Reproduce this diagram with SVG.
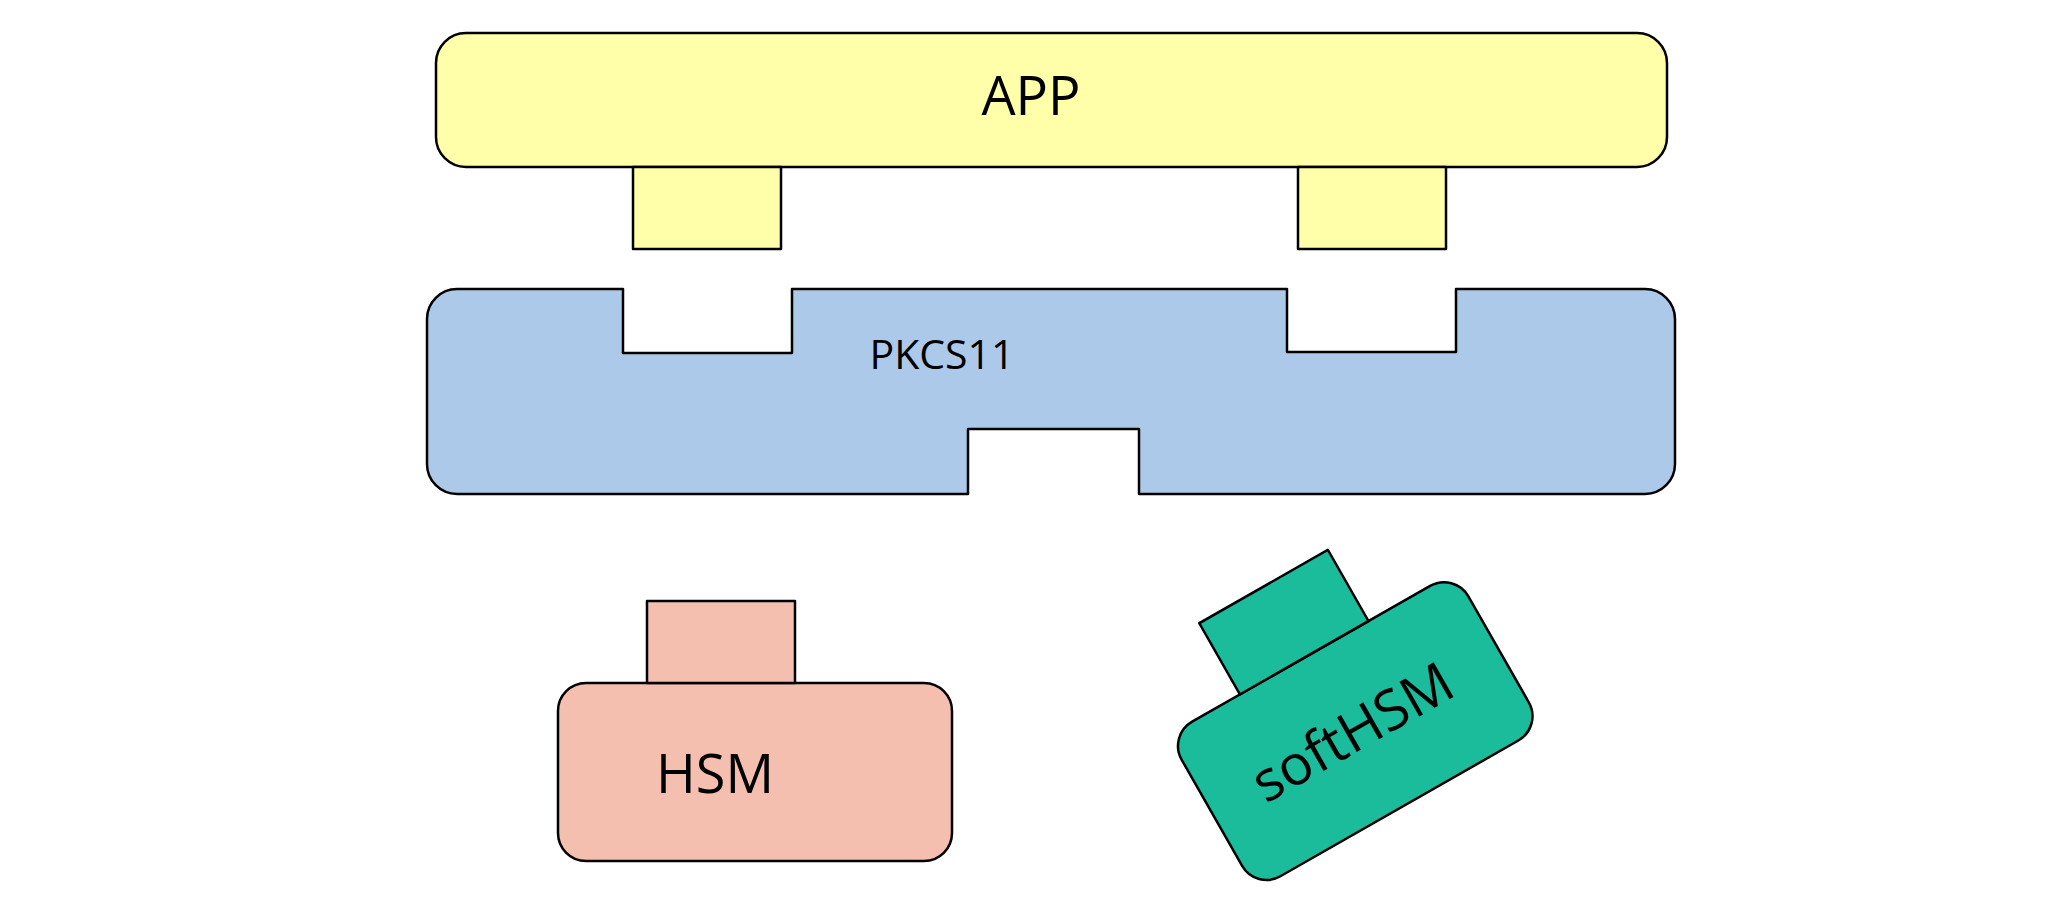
<svg xmlns="http://www.w3.org/2000/svg" width="2068" height="908" viewBox="0 0 2068 908">
<style>
.s{stroke:#000;stroke-width:2.5;stroke-linejoin:round}
.app{fill:#ffffaa}
.pk{fill:#adc9ea}
.hsm{fill:#f4bfae}
.soft{fill:#1abc9c}
.t{font-family:"Open Sans","Noto Sans","DejaVu Sans",sans-serif;font-size:54px;fill:#000;text-anchor:middle}
.t2{font-size:41px}
.t3{font-size:56px}
</style>
<rect width="2068" height="908" fill="#fff"/>
<g id="app">
<rect class="s app" x="436" y="33" width="1231" height="134" rx="30"/>
<text class="t" x="1031" y="115">APP</text>
</g>
<g id="app-port-left"><rect class="s app" x="633" y="167" width="148" height="82"/></g>
<g id="app-port-right"><rect class="s app" x="1298" y="167" width="148" height="82"/></g>
<g id="pkcs11">
<path class="s pk" d="M457,289 H623 V353 H792 V289 H1287 V352 H1456 V289 H1645 A30,30 0 0 1 1675,319 V464 A30,30 0 0 1 1645,494 H1139 V429 H968 V494 H457 A30,30 0 0 1 427,464 V319 A30,30 0 0 1 457,289 Z"/>
<text class="t t2" x="942" y="369">PKCS11</text>
</g>
<g id="hsm">
<rect class="s hsm" x="558" y="683" width="394" height="178" rx="28"/>
<rect class="s hsm" x="647" y="601" width="148" height="82"/>
<text class="t" x="715" y="793">HSM</text>
</g>
<g id="softhsm" transform="rotate(-29.7) translate(92 534.5)">
<rect class="s soft" x="558" y="683" width="330" height="178" rx="28"/>
<rect class="s soft" x="641" y="601" width="148" height="82"/>
<text class="t t3" x="720" y="791">softHSM</text>
</g>
<g id="connectors"></g>
</svg>
